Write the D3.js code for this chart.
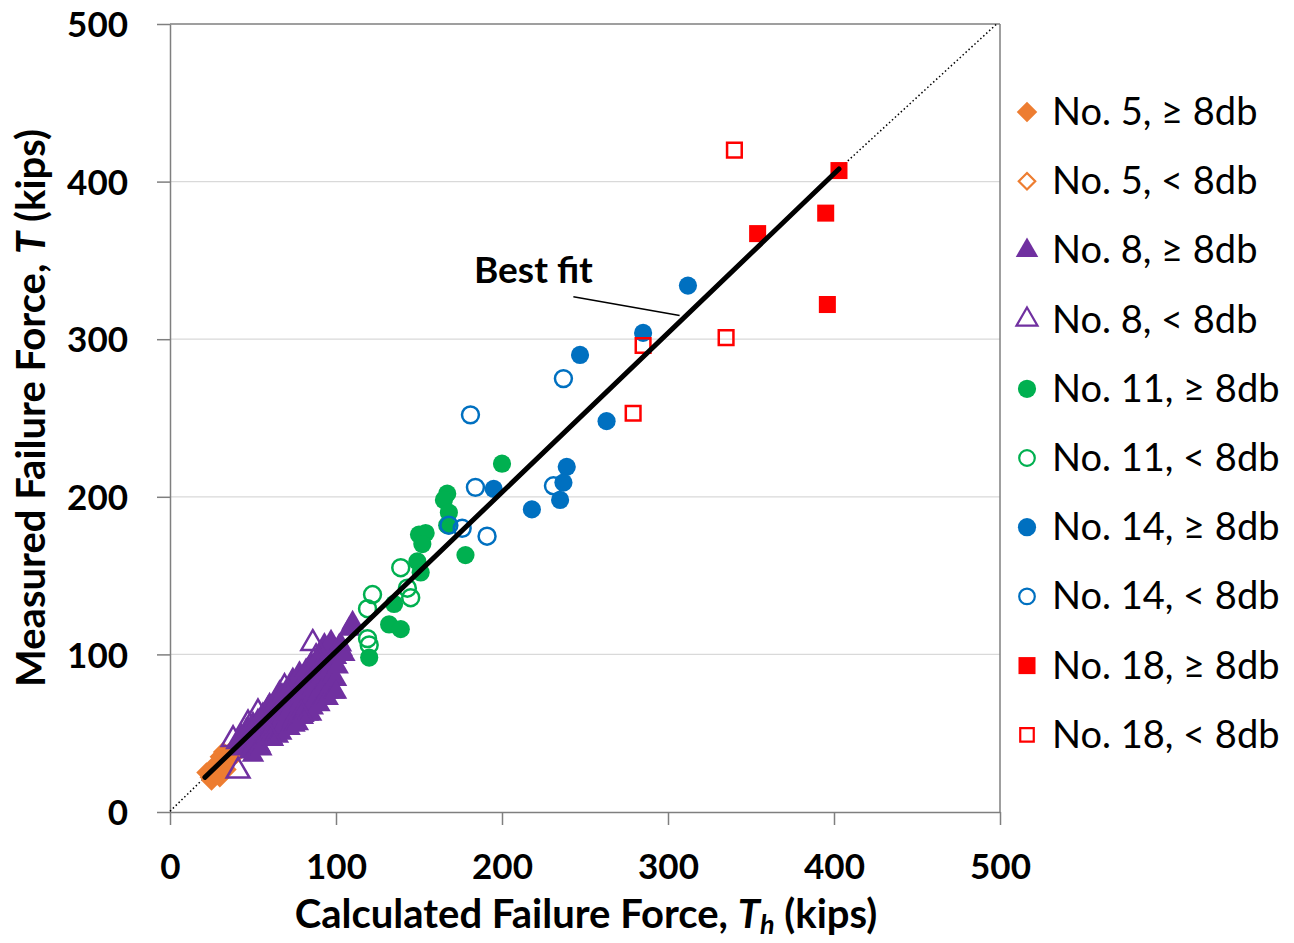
<!DOCTYPE html>
<html><head><meta charset="utf-8">
<script src="https://cdn.jsdelivr.net/npm/d3@7"></script>
<style>
html,body{margin:0;padding:0;background:#fff;}
svg{display:block;}
</style></head>
<body>
<svg id="chart" width="1294" height="943"></svg>
<script>
// ---------- data ----------
const xTicks = [0, 100, 200, 300, 400, 500];
const yTicks = [0, 100, 200, 300, 400, 500];
const seriesNames = ["No. 5, \u2265 8db","No. 5, < 8db","No. 8, \u2265 8db","No. 8, < 8db","No. 11, \u2265 8db","No. 11, < 8db","No. 14, \u2265 8db","No. 14, < 8db","No. 18, \u2265 8db","No. 18, < 8db"];
const no5Ge = [[22,25],[24,22],[25,20],[26,28],[27,24],[28,31],[29,26],[30,22],[30,35],[31,29],[32,38],[33,31],[34,27],[35,36],[36,33],[38,40],[40,37],[42,43]];
const no5Lt = [];
const no8Ge = [[40,44],[42,40],[43,48],[45,42],[46,52],[47,45],[48,38],[49,50],[50,56],[50,36],[51,44],[52,48],[53,58],[54,42],[55,52],[55,40],[56,62],[57,46],[58,55],[59,66],[60,50],[60,68],[61,58],[62,46],[63,62],[64,70],[65,54],[65,48],[66,66],[66,76],[67,50],[68,60],[68,74],[69,56],[70,68],[71,62],[72,53],[72,78],[73,66],[74,58],[74,84],[75,72],[75,55],[76,82],[76,62],[77,56],[78,68],[78,88],[79,74],[80,60],[80,82],[81,66],[82,90],[82,76],[83,62],[84,70],[84,84],[85,94],[85,62],[86,66],[86,78],[87,88],[88,72],[88,96],[89,82],[90,68],[90,92],[91,78],[92,86],[92,102],[93,72],[93,106],[94,96],[94,82],[95,76],[95,72],[96,90],[96,104],[97,80],[97,108],[98,94],[98,86],[99,76],[100,98],[100,84],[100,76],[101,92],[103,106],[105,100],[108,116],[110,120]];
const no8Lt = [[41,26],[38,46],[47,56],[53,63],[60,48],[69,79],[79,62],[86,107],[88,98],[102,104]];
const no11Ge = [[200,221],[167,202],[165,198],[168,190],[167,182],[150,176],[154,177],[152,170],[178,163],[149,159],[151,152],[135,132],[132,119],[139,116],[120,98]];
const no11Lt = [[122,138],[119,129],[139,155],[143,142],[145,136],[119,110],[120,106]];
const no14Ge = [[312,334],[285,304],[247,290],[263,248],[239,219],[237,209],[235,198],[218,192],[195,205]];
const no14Lt = [[237,275],[181,252],[184,206],[231,207],[191,175],[176,180],[168,182]];
const no18Ge = [[403,407],[395,380],[354,367],[396,322]];
const no18Lt = [[340,420],[285,296],[335,301],[279,253]];
const bestFit = [[21,22],[403,408]];
const fitBackward = [[0,0.5],[21,22]];
const fitForward = [[403,408],[498,500]];
const bestFitLabel = "Best fit";
const leader = [[243,327],[307,315]];

// ---------- styles ----------
const colors = ["#ED7D31","#ED7D31","#7030A0","#7030A0","#00B050","#00B050","#0070C0","#0070C0","#FF0000","#FF0000"];
const shapes = ["diamond","diamond","triangle","triangle","circle","circle","circle","circle","square","square"];
const filled = [true,false,true,false,true,false,true,false,true,false];
const allData = [no5Ge,no5Lt,no8Ge,no8Lt,no11Ge,no11Lt,no14Ge,no14Lt,no18Ge,no18Lt];

const svg = d3.select("#chart");
const x = d3.scaleLinear().domain([0,500]).range([170,1000]);
const y = d3.scaleLinear().domain([0,500]).range([812,24]);

// gridlines
svg.append("g").selectAll("line").data(yTicks.filter(d=>d>0 && d<500)).join("line")
  .attr("x1",x(0)).attr("x2",x(500)).attr("y1",d=>y(d)).attr("y2",d=>y(d))
  .attr("stroke","#d9d9d9").attr("stroke-width",1.3);

// plot border (top/right)
svg.append("line").attr("x1",x(0)).attr("x2",x(500)).attr("y1",y(500)).attr("y2",y(500)).attr("stroke","#7f7f7f").attr("stroke-width",1.5);
svg.append("line").attr("x1",x(500)).attr("x2",x(500)).attr("y1",y(500)).attr("y2",y(0)).attr("stroke","#7f7f7f").attr("stroke-width",1.5);

// axes
const fontBold = "Lato, 'Liberation Sans', sans-serif";
const ax = svg.append("g").attr("transform",`translate(0,${y(0)})`)
  .call(d3.axisBottom(x).tickValues(xTicks).tickSize(13).tickPadding(29).tickSizeOuter(0));
const ay = svg.append("g").attr("transform",`translate(${x(0)},0)`)
  .call(d3.axisLeft(y).tickValues(yTicks).tickSize(13).tickPadding(29).tickSizeOuter(0));
[ax,ay].forEach(a=>{
  a.select(".domain").attr("stroke","#7f7f7f").attr("stroke-width",1.5);
  a.selectAll(".tick line").attr("stroke","#7f7f7f").attr("stroke-width",1.5);
  a.selectAll(".tick text").attr("font-family",fontBold).attr("font-weight","bold").attr("font-size",35).attr("fill","#000");
});
ay.selectAll(".tick text").attr("dy","0.36em");

// dotted extensions of the fit line
const line = d3.line().x(d=>x(d[0])).y(d=>y(d[1]));
[fitBackward, fitForward].forEach(seg=>{
  svg.append("path").attr("d",line(seg)).attr("stroke","#000").attr("stroke-width",1.5)
    .attr("stroke-dasharray","1.5,2.5").attr("fill","none");
});

// markers
const squareDiamond = {
  draw(ctx, size){ const r = Math.sqrt(size/2); ctx.moveTo(0,-r); ctx.lineTo(r,0); ctx.lineTo(0,r); ctx.lineTo(-r,0); ctx.closePath(); }
};
function sym(shape){
  const m = {diamond:squareDiamond, triangle:d3.symbolTriangle, circle:d3.symbolCircle, square:d3.symbolSquare};
  return m[shape];
}
const sizes = {diamond:210, triangle:220, circle:260, square:290};
const openSizes = {diamond:160, triangle:225, circle:225, square:215};
allData.forEach((data,i)=>{
  const g = svg.append("g");
  g.selectAll("path").data(data).join("path")
    .attr("transform",d=>`translate(${x(d[0])},${y(d[1])})`)
    .attr("d",d3.symbol().type(sym(shapes[i])).size(filled[i]?sizes[shapes[i]]:openSizes[shapes[i]]))
    .attr("fill",filled[i]?colors[i]:"none")
    .attr("stroke",colors[i])
    .attr("stroke-width",filled[i]?0:2.5);
});

// best fit line
svg.append("path").attr("d",line(bestFit)).attr("stroke","#000").attr("stroke-width",5).attr("fill","none").attr("stroke-linecap","round");
svg.append("path").attr("d",line(leader)).attr("stroke","#000").attr("stroke-width",1.5).attr("fill","none");
svg.append("text").attr("x",474).attr("y",283).attr("text-anchor","start")
  .attr("font-family",fontBold).attr("font-weight","bold").attr("font-size",37).text(bestFitLabel);

// axis titles
const xt = svg.append("text").attr("x",586).attr("y",928).attr("text-anchor","middle")
  .attr("font-family",fontBold).attr("font-weight","bold").attr("font-size",40);
xt.append("tspan").text("Calculated Failure Force, ");
xt.append("tspan").attr("font-style","italic").text("T");
xt.append("tspan").attr("font-style","italic").attr("font-size",27).attr("dy",6).text("h");
xt.append("tspan").attr("dy",-6).text(" (kips)");

const yt = svg.append("text").attr("transform","translate(45,408) rotate(-90)").attr("text-anchor","middle")
  .attr("font-family",fontBold).attr("font-weight","bold").attr("font-size",40);
yt.append("tspan").text("Measured Failure Force, ");
yt.append("tspan").attr("font-style","italic").text("T");
yt.append("tspan").text(" (kips)");

// legend
const legY0 = 112, legStep = 69.2;
const lg = svg.append("g");
seriesNames.forEach((name,i)=>{
  const cy = legY0 + i*legStep;
  lg.append("path").attr("transform",`translate(1027,${cy})`)
    .attr("d",d3.symbol().type(sym(shapes[i])).size(filled[i]?sizes[shapes[i]]:openSizes[shapes[i]]*0.85))
    .attr("fill",filled[i]?colors[i]:"none").attr("stroke",colors[i]).attr("stroke-width",filled[i]?0:2.2);
  lg.append("text").attr("x",1052).attr("y",cy+13).attr("font-family","Lato, sans-serif")
    .attr("font-size",38).attr("fill","#000").text(name);
});
</script>
</body></html>
